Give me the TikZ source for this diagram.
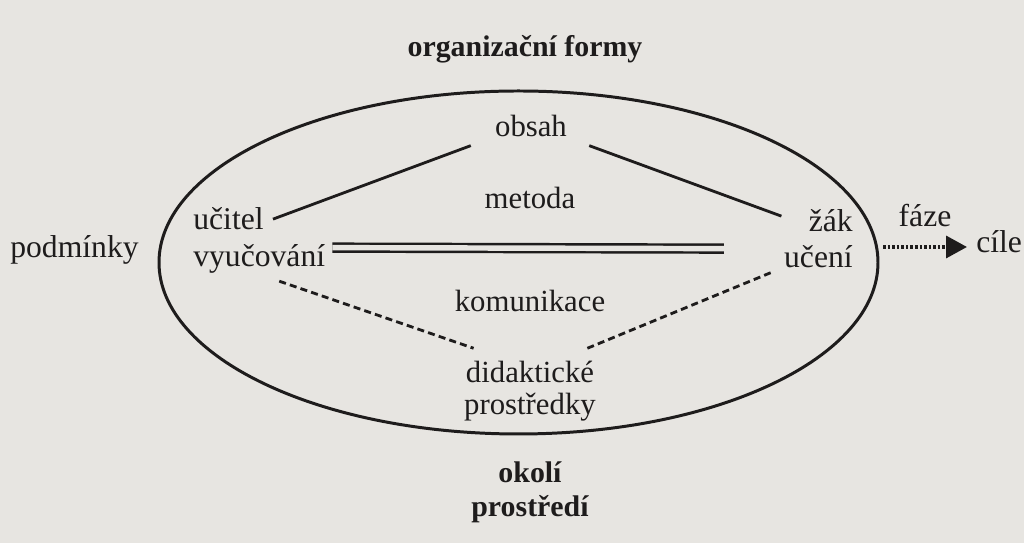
\documentclass[tikz,border=0pt]{standalone}
\usepackage{fontspec}
\setmainfont{Liberation Serif}
\usetikzlibrary{arrows.meta}
\definecolor{paper}{RGB}{231,229,225}
\definecolor{ink}{RGB}{30,28,28}

\begin{document}
\begin{tikzpicture}[
	word/.style={inner sep=0pt, text=ink, font=\fontsize{17.5}{20}\selectfont},
	sideword/.style={word, font=\fontsize{18}{21}\selectfont},
	outerword/.style={word, font=\fontsize{17}{20}\selectfont\bfseries},
	link/.style={draw=ink, line width=1.6pt},
	]
	\fill[paper] (0,0) rectangle (20.48,10.86);
	\useasboundingbox (0,0) rectangle (20.48,10.86);
	% the lesson
	\draw[ink, line width=1.7pt] (10.37,5.61) ellipse (7.19 and 3.43);
	\node [outerword, anchor=base] (formy) at (10.5,9.72) {organizační formy};
	\node [word, anchor=base] (obsah) at (10.62,8.12) {obsah};
	\node [word, anchor=base] (metoda) at (10.6,6.68) {metoda};
	\node [sideword, anchor=base west] (ucitel) at (3.86,6.26) {učitel};
	\node [sideword, anchor=base west] (vyucovani) at (3.86,5.52) {vyučování};
	\node [sideword, anchor=base east] (zak) at (17.06,6.22) {žák};
	\node [sideword, anchor=base east] (uceni) at (17.06,5.5) {učení};
	\node [word, anchor=base] (komunikace) at (10.6,4.62) {komunikace};
	\node [word, anchor=base] (didakticke) at (10.6,3.2) {didaktické};
	\node [word, anchor=base] (prostredky) at (10.6,2.56) {prostředky};
	% around it
	\node [sideword, anchor=base west] (podminky) at (0.2,5.7) {podmínky};
	\node [sideword, anchor=base] (faze) at (18.5,6.32) {fáze};
	\node [sideword, anchor=base west] (cile) at (19.52,5.8) {cíle};
	\node [outerword, anchor=base] (okoli) at (10.6,1.2) {okolí};
	\node [outerword, anchor=base] (prostredi) at (10.6,0.52) {prostředí};
	% links
	\draw [link] ([xshift=0.18cm]ucitel.east) -- ([xshift=-0.48cm,yshift=-0.16cm]obsah.south west);
	\draw [link] ([xshift=0.44cm,yshift=-0.16cm]obsah.south east) -- ([xshift=-0.54cm,yshift=0.1cm]zak.west);
	\draw [draw=ink, line width=1.4pt, double=paper, double distance=3.1pt]
		([xshift=0.14cm,yshift=-0.06cm]vyucovani.north east) -- ([xshift=-1.2cm,yshift=-0.06cm]uceni.north west);
	\draw [link, dash pattern=on 4pt off 2.4pt] ([xshift=0.4cm,yshift=-0.14cm]vyucovani.south) -- ([xshift=0.16cm,yshift=0.26cm]didakticke.north west);
	\draw [link, dash pattern=on 4pt off 2.4pt] ([xshift=-0.14cm,yshift=0.26cm]didakticke.north east) -- ([xshift=-0.26cm,yshift=-0.08cm]uceni.south west);
	\coordinate (arrowstart) at (17.66,5.92);
	\draw [draw=ink, line width=2pt, dash pattern=on 1.5pt off 1.1pt, shorten >=0.18cm, -{Triangle[length=0.42cm,width=0.44cm]}]
		(arrowstart) -- (arrowstart -| cile.west);
\end{tikzpicture}
\end{document}
